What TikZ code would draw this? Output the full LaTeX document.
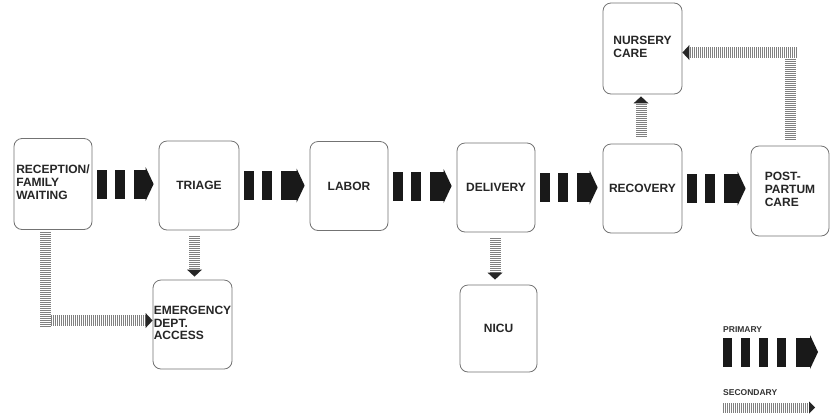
\documentclass[tikz,border=0pt]{standalone}
\usepackage{fontspec}
\setmainfont{Liberation Sans}
\usetikzlibrary{arrows.meta}
\newcommand\lft[1]{\begin{tabular}{@{}l@{}}#1\end{tabular}}
\begin{document}
\begin{tikzpicture}[x=1pt,y=-1pt,
 box/.style={draw=black!55, line width=0.8pt, rounded corners=8pt, fill=white, text=black!85,
   font=\bfseries\fontsize{12}{13.5}\selectfont, align=center, inner sep=0pt, text width=78pt,
   minimum height=89pt},
 primary/.style={draw=black!90, line width=29pt,
   dash pattern=on 10pt off 8pt on 10pt off 9pt on 80pt off 0pt,
   -{Triangle[length=8pt,width=34pt,line width=0pt]}},
 legprimary/.style={draw=black!90, line width=29pt,
   dash pattern=on 9pt off 9pt on 9pt off 9pt on 9pt off 9pt on 9pt off 10pt on 80pt off 0pt,
   -{Triangle[length=8pt,width=34pt,line width=0pt]}},
 secline/.style={draw=black!50, line width=11pt, dash pattern=on 1pt off 1pt},
 secondary/.style={secline, -{Triangle[length=7pt,width=15pt,line width=0pt,color=black!85]}},
 legsecondary/.style={draw=black!50, line width=10pt, dash pattern=on 1pt off 1pt,
   -{Triangle[length=6pt,width=12pt,line width=0pt,color=black!85]}},
 legtext/.style={font=\bfseries\fontsize{8.5}{10}\selectfont, text=black!80, anchor=base west, inner sep=0pt}]
\fill[white] (0,0) rectangle (834,416);
\useasboundingbox (0,0) rectangle (834,416);
\renewcommand\arraystretch{0.95}
% boxes
\node[box, text width=78pt, minimum height=91pt] (recep) at (53,184) {\lft{RECEPTION/\\FAMILY\\WAITING}};
\node[box, text width=80pt] (triage) at (199,185.5) {TRIAGE};
\node[box] (labor) at (349,186) {LABOR};
\node[box] (delivery) at (496,187.5) {DELIVERY};
\node[box, text width=79pt] (recovery) at (642.5,188.5) {RECOVERY};
\node[box, minimum height=90pt] (post) at (790,191) {\lft{POST-\\PARTUM\\CARE}};
\node[box, text width=79pt, minimum height=91pt] (nursery) at (642.5,48.5) {\lft{NURSERY\\CARE}};
\node[box, text width=79pt] (emerg) at (192.5,324.5) {\lft{EMERGENCY\\DEPT.\\ACCESS}};
\node[box, text width=77pt, minimum height=87pt] (nicu) at (498.5,328.5) {NICU};
% primary flow
\draw[primary] ([xshift=5pt]recep.east) -- ([xshift=-5pt]recep.east -| triage.west);
\draw[primary] ([xshift=5pt]triage.east) -- ([xshift=-5pt]triage.east -| labor.west);
\draw[primary] ([xshift=5pt]labor.east) -- ([xshift=-5pt]labor.east -| delivery.west);
\draw[primary] ([xshift=5pt]delivery.east) -- ([xshift=-5pt]delivery.east -| recovery.west);
\draw[primary] ([xshift=5pt]recovery.east) -- ([xshift=-5pt]recovery.east -| post.west);
% secondary flow
\coordinate (c1) at ([xshift=-8pt,yshift=4pt]recep.south |- emerg.west);
\draw[secline] ([xshift=-8pt,yshift=-2pt]recep.south) -- ([yshift=-5.5pt]c1);
\draw[secondary] ([xshift=5.5pt]c1) -- ([yshift=4pt]emerg.west);
\draw[secondary] ([xshift=-4.5pt,yshift=-6pt]triage.south) -- ([xshift=2pt,yshift=3pt]emerg.north);
\draw[secondary] ([xshift=-1pt,yshift=-6pt]delivery.south) -- ([xshift=-3.5pt,yshift=5pt]nicu.north);
\draw[secondary] ([xshift=-1.5pt,yshift=7pt]recovery.north) -- ([xshift=-1.5pt,yshift=-2pt]nursery.south);
\coordinate (c2) at ([yshift=-4pt]post.north |- nursery.east);
\draw[secline] ([yshift=6pt]post.north) -- ([yshift=-5.5pt]c2);
\draw[secondary] ([xshift=6.5pt]c2) -- ([yshift=-4pt]nursery.east);
% legend
\node[legtext] (lp) at (723,332) {PRIMARY};
\coordinate (lpa) at (723,352);
\coordinate (lpb) at (818,352);
\draw[legprimary] (lpa) -- (lpb);
\node[legtext] (ls) at (723,395) {SECONDARY};
\coordinate (lsa) at (723,407.5);
\coordinate (lsb) at (815,407.5);
\draw[legsecondary] (lsa) -- (lsb);
\end{tikzpicture}
\end{document}
